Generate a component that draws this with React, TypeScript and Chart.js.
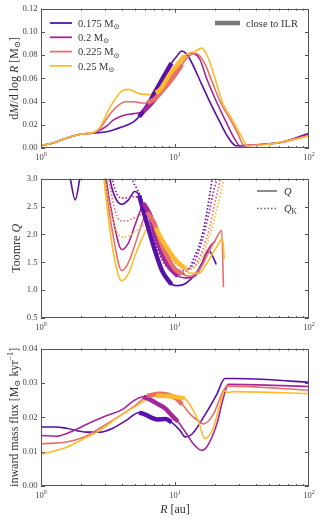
import React, { useEffect, useRef } from 'react';
import { Chart, registerables } from 'chart.js';
Chart.register(...registerables);

const FAM = '"Liberation Serif", "DejaVu Serif", serif';
const COLORS = ['#5810a8', '#a3269b', '#e8706a', '#fdbb2d'];
const MASSES = ['0.175', '0.2', '0.225', '0.25'];
const ILR_LO = [5.4, 5.8, 6.2, 7.2];
const ILR_HI = [9.4, 10.5, 11.3, 11.8];

// ---- Panel 1: dM/dlogR ----
const dmR175 = [1, 1.24, 1.6, 2.0, 2.46, 3.1, 4.0, 4.9, 5.4, 6.2, 7.0, 8.0, 9.4, 10.3, 11.2, 12.2, 13.0, 15.8, 18.5, 21.7, 25, 28.5, 38, 64, 100];
const dm175 = [0.002, 0.0045, 0.009, 0.012, 0.013, 0.014, 0.018, 0.0225, 0.027, 0.036, 0.047, 0.059, 0.073, 0.079, 0.0835, 0.081, 0.076, 0.055, 0.038, 0.022, 0.009, 0.002, 0.0024, 0.0054, 0.0128];
const dmR200 = [1, 1.24, 1.6, 2.0, 2.46, 2.76, 3.1, 3.46, 4.1, 4.9, 5.8, 6.5, 7.5, 8.5, 9.5, 10.5, 11.7, 13, 14.1, 15.4, 17.2, 20, 24.4, 27.5, 30.5, 40, 64, 100];
const dm200 = [0.002, 0.0045, 0.009, 0.012, 0.013, 0.0154, 0.019, 0.024, 0.028, 0.0296, 0.0315, 0.037, 0.046, 0.055, 0.063, 0.071, 0.078, 0.0816, 0.081, 0.076, 0.06, 0.042, 0.021, 0.009, 0.002, 0.0027, 0.0052, 0.0117];
const dmR225 = [1, 1.24, 1.6, 2.0, 2.46, 2.76, 3.0, 3.37, 3.8, 4.3, 5.0, 5.6, 6.2, 7.0, 8.0, 9.0, 10.0, 11.3, 12.4, 14.1, 15.4, 16.8, 18.8, 21.7, 25.7, 29, 33, 40, 64, 100];
const dm225 = [0.002, 0.0045, 0.009, 0.012, 0.013, 0.0168, 0.023, 0.031, 0.037, 0.0398, 0.0398, 0.0388, 0.0388, 0.042, 0.049, 0.056, 0.063, 0.072, 0.078, 0.0816, 0.079, 0.072, 0.058, 0.04, 0.025, 0.014, 0.002, 0.0027, 0.005, 0.011];
const dmR250 = [1, 1.24, 1.6, 2.0, 2.46, 2.76, 3.27, 4.0, 4.48, 5.5, 6.7, 7.2, 7.7, 9.2, 10.3, 11.8, 13, 14, 15.8, 17.5, 20.5, 23, 25, 27.5, 31, 35, 50, 100];
const dm250 = [0.002, 0.0045, 0.009, 0.012, 0.0135, 0.018, 0.035, 0.049, 0.0505, 0.0466, 0.046, 0.0475, 0.05, 0.064, 0.071, 0.0795, 0.082, 0.083, 0.086, 0.079, 0.055, 0.037, 0.03, 0.022, 0.011, 0.002, 0.0033, 0.0102];

// ---- Panel 2: Toomre Q (solid) ----
const qR175 = [1.4, 1.65, 1.8, 1.95, 2.3, 2.8, 3.27, 3.6, 4.0, 4.5, 5.0, 5.4, 6.0, 7.0, 8.0, 9.4, 10.5, 12, 14, 16, 17, 18, 19, 20.3];
const q175 = [4.0, 3.02, 2.62, 3.02, 4.2, 4.5, 3.0, 2.65, 2.54, 2.62, 2.77, 2.7, 2.3, 1.75, 1.35, 1.1, 1.08, 1.12, 1.27, 1.5, 1.65, 1.7, 1.62, 1.46];
const qR200 = [2.8, 3.06, 3.5, 4.0, 4.5, 5.0, 5.5, 5.8, 6.5, 7.0, 8.0, 9.0, 10.5, 12, 14, 15.5, 17, 18.5, 20];
const q200 = [4.0, 3.0, 2.2, 1.73, 1.85, 2.15, 2.42, 2.56, 2.35, 2.05, 1.65, 1.42, 1.25, 1.22, 1.25, 1.4, 1.65, 1.8, 1.88];
const qR225 = [2.75, 3.0, 3.5, 4.0, 4.5, 5.0, 5.5, 6.2, 7.0, 8.0, 9.0, 10.0, 11.3, 13, 14, 16, 18, 20, 22.3, 23];
const q225 = [4.0, 3.0, 1.9, 1.35, 1.5, 1.8, 2.1, 2.4, 2.2, 1.8, 1.55, 1.38, 1.29, 1.25, 1.28, 1.45, 1.7, 1.9, 2.07, 1.05];
const qR250 = [2.7, 2.95, 3.4, 4.0, 4.5, 5.0, 5.5, 6.0, 6.6, 7.2, 8.0, 9.0, 10.0, 11.0, 11.8, 13, 15, 17, 19, 21, 22.6, 23.3];
const q250 = [4.0, 3.0, 1.8, 1.17, 1.3, 1.6, 1.85, 2.05, 2.18, 2.12, 1.9, 1.7, 1.55, 1.45, 1.39, 1.3, 1.3, 1.45, 1.65, 1.82, 1.93, 1.56];

// ---- Panel 2: Q_K (dotted) ----
const qkR175 = [4.5, 4.8, 5.2, 5.6, 6.0, 7.0, 8.0, 9.0, 10.0, 11.0, 12.0, 13.0, 14.0, 15.4, 17.0, 18.8, 20.5];
const qk175 = [3.4, 3.0, 2.82, 2.65, 2.4, 1.9, 1.55, 1.38, 1.3, 1.28, 1.33, 1.42, 1.6, 1.85, 2.3, 2.95, 3.5];
const qkR200 = [3.2, 3.4, 3.7, 4.0, 4.5, 5.0, 5.5, 6.0, 7.0, 8.0, 9.0, 10.0, 11.0, 12.0, 13.0, 14.0, 16.0, 18.0, 19.5, 20.5, 21.5];
const qk200 = [3.4, 3.0, 2.72, 2.65, 2.66, 2.68, 2.62, 2.5, 2.1, 1.75, 1.5, 1.4, 1.35, 1.35, 1.4, 1.5, 1.9, 2.4, 2.8, 3.0, 3.5];
const qkR225 = [3.0, 3.2, 3.6, 4.0, 4.5, 5.0, 5.5, 6.3, 7.0, 8.0, 9.0, 10.0, 11.0, 12.0, 13.0, 14.0, 16.0, 18.0, 20.0, 21.7, 22.5];
const qk225 = [3.4, 3.0, 2.4, 2.24, 2.25, 2.3, 2.35, 2.45, 2.25, 1.9, 1.65, 1.5, 1.42, 1.38, 1.38, 1.42, 1.7, 2.1, 2.6, 3.0, 3.4];
const qkR250 = [2.85, 3.0, 3.4, 4.0, 4.5, 5.0, 6.0, 6.6, 7.5, 8.0, 9.0, 10.0, 11.0, 12.0, 13.0, 14.0, 16.0, 18.0, 20.0, 22.0, 23.0, 24.0];
const qk250 = [3.4, 3.0, 2.3, 1.95, 1.97, 2.05, 2.18, 2.22, 2.05, 1.95, 1.75, 1.6, 1.5, 1.43, 1.4, 1.42, 1.6, 1.95, 2.35, 2.75, 3.0, 3.4];

// ---- Panel 3: inward mass flux ----
const fR175 = [1, 1.3, 1.55, 2.19, 2.76, 3.46, 4.36, 5.4, 6.0, 7.4, 8.5, 9.4, 10.9, 11.9, 13.3, 16.3, 20.5, 23.6, 27.3, 48, 100];
const f175 = [0.0172, 0.0172, 0.0168, 0.0157, 0.0157, 0.0169, 0.0192, 0.0214, 0.0208, 0.0194, 0.0195, 0.0186, 0.0162, 0.0143, 0.015, 0.020, 0.0267, 0.0313, 0.0313, 0.031, 0.0302];
const fR200 = [1, 1.3, 1.65, 2.2, 3.1, 4.1, 4.9, 5.8, 6.5, 7.5, 8.5, 9.5, 10.5, 12.2, 13.7, 15.8, 17.2, 20.5, 23, 25, 100];
const f200 = [0.0147, 0.0145, 0.0157, 0.018, 0.0205, 0.0224, 0.0248, 0.026, 0.0252, 0.0238, 0.0225, 0.0205, 0.0188, 0.0152, 0.0123, 0.0104, 0.0113, 0.018, 0.0258, 0.0296, 0.029];
const fR225 = [1, 1.55, 2.07, 2.76, 3.9, 5.17, 6.2, 7.7, 9.0, 10.2, 11.3, 13.3, 14.9, 16.3, 19.4, 22.3, 24.5, 100];
const f225 = [0.0123, 0.0128, 0.0142, 0.0169, 0.0205, 0.0238, 0.0263, 0.0269, 0.0265, 0.0255, 0.0238, 0.0205, 0.019, 0.0181, 0.021, 0.0267, 0.0291, 0.0279];
const fR250 = [1, 1.55, 2.19, 2.76, 3.9, 5.17, 6.5, 7.2, 8.5, 10, 11.8, 13.3, 14.9, 16.7, 19.4, 21.7, 23.4, 25, 27.3, 100];
const f250 = [0.0092, 0.0113, 0.0142, 0.0162, 0.0205, 0.0234, 0.0258, 0.0263, 0.0262, 0.026, 0.0255, 0.0229, 0.019, 0.0138, 0.0171, 0.0238, 0.0277, 0.0272, 0.0275, 0.0269];

const Y1_TICKS = [0, 0.02, 0.04, 0.06, 0.08, 0.1, 0.12];
const Y2_TICKS = [0.5, 1.0, 1.5, 2.0, 2.5, 3.0];
const Y3_TICKS = [0, 0.01, 0.02, 0.03, 0.04];
const X_MAJOR = [1, 10, 100];
const X_EXP = ['0', '1', '2'];

type Run = { t: string; i?: boolean; s?: boolean; p?: boolean };

function drawRuns(ctx: CanvasRenderingContext2D, runs: Run[], x: number, y: number, size: number, rotate = false, align: 'left' | 'center' = 'center', color = '#333') {
  ctx.save();
  const fontFor = (r: Run) => `${r.i ? 'italic ' : ''}${r.s || r.p ? size * 0.7 : size}px ${FAM}`;
  let total = 0;
  const ws = runs.map((r) => { ctx.font = fontFor(r); const w = ctx.measureText(r.t).width; total += w; return w; });
  ctx.translate(x, y);
  if (rotate) ctx.rotate(-Math.PI / 2);
  let cx = align === 'left' ? 0 : -total / 2;
  ctx.fillStyle = color;
  ctx.textBaseline = 'alphabetic';
  ctx.textAlign = 'left';
  runs.forEach((r, i) => {
    ctx.font = fontFor(r);
    const dy = r.s ? size * 0.22 : r.p ? -size * 0.4 : 0;
    ctx.fillText(r.t, cx, dy);
    cx += ws[i];
  });
  ctx.restore();
}

const zip = (xs: number[], ys: number[]) => xs.map((x, i) => ({ x, y: ys[i] }));

function seriesSets(xsList: number[][], ysList: number[][], dash: number[] | null, thick: boolean) {
  const out: any[] = [];
  xsList.forEach((xs, k) => {
    out.push({
      label: MASSES[k],
      data: zip(xs, ysList[k]),
      borderColor: COLORS[k],
      borderWidth: dash ? 1.7 : 1.6,
      borderDash: dash || [],
      cubicInterpolationMode: 'monotone',
      pointRadius: 0,
      fill: false,
      clip: 0,
      order: 20 - k,
    });
  });
  if (thick) {
    xsList.forEach((xs, k) => {
      out.push({
        label: MASSES[k] + ' ILR',
        data: zip(xs, ysList[k]).filter((p) => p.x >= ILR_LO[k] - 1e-9 && p.x <= ILR_HI[k] + 1e-9),
        borderColor: COLORS[k],
        borderWidth: 4.5,
        borderCapStyle: 'butt',
        cubicInterpolationMode: 'monotone',
        pointRadius: 0,
        fill: false,
        clip: 0,
        order: 4 - k,
      });
    });
  }
  return out;
}

type PanelCfg = {
  height: number;
  bottom: number;
  yMin: number;
  yMax: number;
  yTicks: number[];
  yDec: number;
  datasets: any[];
  yTitle: Run[];
  yTitleX: number;
  xTitle?: Run[];
  legend: (ctx: CanvasRenderingContext2D) => void;
};

const legend1 = (ctx: CanvasRenderingContext2D) => {
  MASSES.forEach((m, k) => {
    const y = 23 + k * 14.3;
    ctx.save();
    ctx.strokeStyle = COLORS[k];
    ctx.lineWidth = 1.8;
    ctx.beginPath(); ctx.moveTo(50, y); ctx.lineTo(72, y); ctx.stroke();
    ctx.restore();
    drawRuns(ctx, [{ t: m + ' M' }, { t: '⊙', s: true }], 78, y + 3.6, 10.5, false, 'left');
  });
  ctx.save();
  ctx.strokeStyle = '#777';
  ctx.lineWidth = 4.5;
  ctx.beginPath(); ctx.moveTo(215, 23); ctx.lineTo(240, 23); ctx.stroke();
  ctx.restore();
  drawRuns(ctx, [{ t: 'close to ILR' }], 246, 26.6, 10.5, false, 'left');
};

const legend2 = (ctx: CanvasRenderingContext2D) => {
  ctx.save();
  ctx.strokeStyle = '#666';
  ctx.lineWidth = 1.5;
  ctx.beginPath(); ctx.moveTo(257, 21); ctx.lineTo(277, 21); ctx.stroke();
  ctx.setLineDash([1.5, 2]);
  ctx.beginPath(); ctx.moveTo(257, 38.5); ctx.lineTo(277, 38.5); ctx.stroke();
  ctx.restore();
  drawRuns(ctx, [{ t: 'Q', i: true }], 284, 24.6, 10.5, false, 'left');
  drawRuns(ctx, [{ t: 'Q', i: true }, { t: 'K', s: true }], 284, 42.1, 10.5, false, 'left');
};

const PANELS: PanelCfg[] = [
  {
    height: 170, bottom: 148, yMin: 0, yMax: 0.12, yTicks: Y1_TICKS, yDec: 2,
    datasets: seriesSets([dmR175, dmR200, dmR225, dmR250], [dm175, dm200, dm225, dm250], null, true),
    yTitle: [{ t: 'd' }, { t: 'M', i: true }, { t: '/d log ' }, { t: 'R', i: true }, { t: ' [M' }, { t: '⊙', s: true }, { t: ']' }],
    yTitleX: 17.5,
    legend: legend1,
  },
  {
    height: 170, bottom: 148, yMin: 0.5, yMax: 3.0, yTicks: Y2_TICKS, yDec: 1,
    datasets: [
      ...seriesSets([qR175, qR200, qR225, qR250], [q175, q200, q225, q250], null, true),
      ...seriesSets([qkR175, qkR200, qkR225, qkR250], [qk175, qk200, qk225, qk250], [1.5, 2], false),
    ],
    yTitle: [{ t: 'Toomre ' }, { t: 'Q', i: true }],
    yTitleX: 20,
    legend: legend2,
  },
  {
    height: 180, bottom: 146, yMin: 0, yMax: 0.04, yTicks: Y3_TICKS, yDec: 2,
    datasets: seriesSets([fR175, fR200, fR225, fR250], [f175, f200, f225, f250], null, true),
    yTitle: [{ t: 'inward mass flux [M' }, { t: '⊙', s: true }, { t: ' kyr' }, { t: '−1', p: true }, { t: ']' }],
    yTitleX: 17.5,
    xTitle: [{ t: 'R', i: true }, { t: ' [au]' }],
    legend: () => {},
  },
];

function makeDecor(p: PanelCfg) {
  return {
    id: 'decor',
    afterDatasetsDraw(chart: any) {
      const ctx: CanvasRenderingContext2D = chart.ctx;
      const a = chart.chartArea;
      const xs = chart.scales.x;
      const ys = chart.scales.y;
      ctx.save();
      ctx.strokeStyle = '#555';
      ctx.lineWidth = 1;
      ctx.strokeRect(Math.round(a.left) + 0.5, Math.round(a.top) + 0.5, Math.round(a.right - a.left) - 1, Math.round(a.bottom - a.top) - 1);
      ctx.beginPath();
      for (let d = 0; d < 2; d++) {
        for (let k = 1; k <= 9; k++) {
          const v = k * Math.pow(10, d);
          const x = Math.round(xs.getPixelForValue(v)) + 0.5;
          const len = k === 1 ? 4 : 2;
          ctx.moveTo(x, a.bottom); ctx.lineTo(x, a.bottom - len);
          ctx.moveTo(x, a.top); ctx.lineTo(x, a.top + len);
        }
      }
      p.yTicks.forEach((v) => {
        const y = Math.round(ys.getPixelForValue(v)) + 0.5;
        ctx.moveTo(a.left, y); ctx.lineTo(a.left + 4, y);
        ctx.moveTo(a.right, y); ctx.lineTo(a.right - 4, y);
      });
      ctx.stroke();
      ctx.restore();
      X_MAJOR.forEach((v, i) => {
        const x = xs.getPixelForValue(v);
        ctx.save();
        ctx.fillStyle = '#444';
        ctx.font = `8.5px ${FAM}`;
        const w1 = ctx.measureText('10').width;
        ctx.font = `6px ${FAM}`;
        const w2 = ctx.measureText(X_EXP[i]).width;
        const x0 = x - (w1 + w2) / 2;
        ctx.font = `8.5px ${FAM}`;
        ctx.textBaseline = 'alphabetic';
        ctx.textAlign = 'left';
        ctx.fillText('10', x0, a.bottom + 11.5);
        ctx.font = `6px ${FAM}`;
        ctx.fillText(X_EXP[i], x0 + w1, a.bottom + 7.5);
        ctx.restore();
      });
      drawRuns(ctx, p.yTitle, p.yTitleX, (a.top + a.bottom) / 2, 12, true);
      if (p.xTitle) drawRuns(ctx, p.xTitle, (a.left + a.right) / 2, 172.5, 12);
      p.legend(ctx);
    },
  };
}

function makeChart(canvas: HTMLCanvasElement, p: PanelCfg) {
  return new Chart(canvas, {
    type: 'line',
    data: { datasets: p.datasets },
    options: {
      animation: false,
      responsive: false,
      maintainAspectRatio: false,
      devicePixelRatio: 1,
      layout: { padding: { top: 7, right: 13, left: 0, bottom: 0 }, autoPadding: false },
      plugins: { legend: { display: false }, tooltip: { enabled: false } },
      elements: { point: { radius: 0 } },
      scales: {
        x: {
          type: 'logarithmic', min: 1, max: 100,
          grid: { display: false, drawTicks: false },
          border: { display: false },
          ticks: { display: false },
          afterFit: (s: any) => { s.height = p.height - p.bottom; },
        },
        y: {
          type: 'linear', min: p.yMin, max: p.yMax,
          grid: { display: false, drawTicks: false },
          border: { display: false },
          afterBuildTicks: (s: any) => { s.ticks = p.yTicks.map((v) => ({ value: v })); },
          ticks: {
            callback: (v: any) => Number(v).toFixed(p.yDec),
            font: { family: FAM, size: 8.6 },
            color: '#444',
            padding: 3.5,
            autoSkip: false,
          },
          afterFit: (s: any) => { s.width = 41; },
        },
      },
    } as any,
    plugins: [makeDecor(p)],
  });
}

export default function App() {
  const r0 = useRef<HTMLCanvasElement>(null);
  const r1 = useRef<HTMLCanvasElement>(null);
  const r2 = useRef<HTMLCanvasElement>(null);
  useEffect(() => {
    const refs = [r0, r1, r2];
    const charts = PANELS.map((p, i) => makeChart(refs[i].current as HTMLCanvasElement, p));
    return () => charts.forEach((c) => c.destroy());
  }, []);
  return (
    <div style={{ position: 'fixed', left: 0, top: 0, width: 322, height: 520, background: '#fff' }}>
      <canvas ref={r0} width={322} height={170} style={{ position: 'absolute', left: 0, top: 0, width: 322, height: 170 }} />
      <canvas ref={r1} width={322} height={170} style={{ position: 'absolute', left: 0, top: 170, width: 322, height: 170 }} />
      <canvas ref={r2} width={322} height={180} style={{ position: 'absolute', left: 0, top: 340, width: 322, height: 180 }} />
    </div>
  );
}
